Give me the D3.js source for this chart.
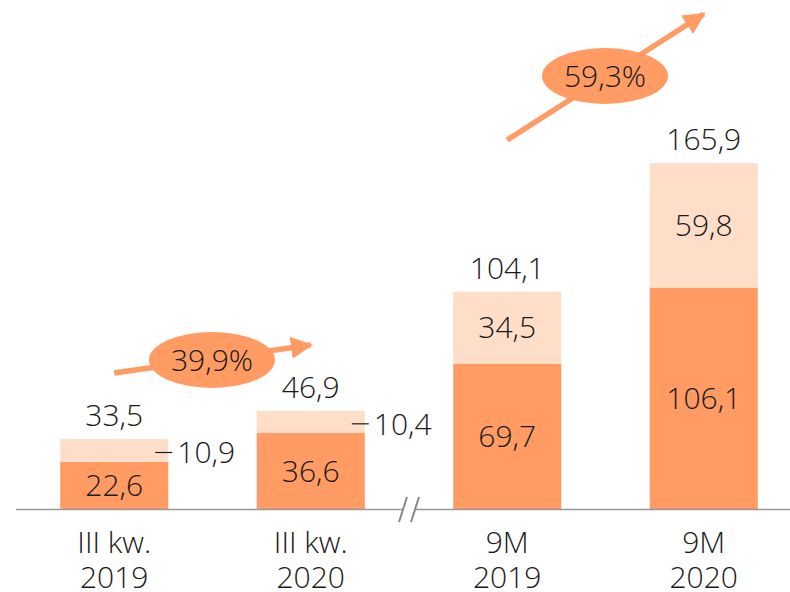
<!DOCTYPE html>
<html>
<head>
<meta charset="utf-8">
<script src="https://cdn.jsdelivr.net/npm/d3@7"></script>
<style>
  body { margin: 0; background: #fff; }
  text { font-family: "Open Sans", sans-serif; font-weight: 300; fill: #1a1a1a; }
</style>
</head>
<body>
<div id="chart"></div>
<script>
var W = 790, H = 592;

// dane
var categories = ['III kw. 2019', 'III kw. 2020', '9M 2019', '9M 2020'];
var catLines = [['III kw.', '2019'], ['III kw.', '2020'], ['9M', '2019'], ['9M', '2020']];
var baseVals = [22.6, 36.6, 69.7, 106.1];
var topVals = [10.9, 10.4, 34.5, 59.8];
var totals = [33.5, 46.9, 104.1, 165.9];
var growth = ['39,9%', '59,3%'];

var cDark = '#ff9b63',
    cLight = '#ffdec9';

var fmt = function (v) { return v.toFixed(1).replace('.', ','); };

var svg = d3.select('#chart').append('svg')
    .attr('width', W)
    .attr('height', H);

var x = d3.scaleBand().domain(categories).range([16, 802]).paddingInner(0.45).paddingOuter(0.225);
var y = d3.scaleLinear().domain([0, 165.9]).range([509, 163]);

var rows = categories.map(function (c, i) { return {cat: c, base: baseVals[i], top: topVals[i]}; });
var stack = d3.stack().keys(['base', 'top'])(rows);
var colors = [cDark, cLight];

// słupki
stack.forEach(function (layer, li) {
    svg.append('g').selectAll('rect').data(layer).enter().append('rect')
        .attr('x', function (d) { return x(d.data.cat); })
        .attr('y', function (d) { return y(d[1]); })
        .attr('width', x.bandwidth())
        .attr('height', function (d) { return y(d[0]) - y(d[1]); })
        .attr('fill', colors[li]);
});

// oś
svg.append('line').attr('x1', 16).attr('x2', W).attr('y1', y(0) + 0.5).attr('y2', y(0) + 0.5)
    .attr('stroke', '#999').attr('stroke-width', 1.5);

// przerwa osi
var bx = (x(categories[1]) + x.bandwidth() + x(categories[2])) / 2;
svg.append('rect').attr('x', bx - 6).attr('y', y(0) - 3).attr('width', 12).attr('height', 6).attr('fill', '#fff');
[-6, 6].forEach(function (o) {
    svg.append('line')
        .attr('x1', bx + o - 4).attr('y1', y(0) + 13)
        .attr('x2', bx + o + 4).attr('y2', y(0) - 12)
        .attr('stroke', '#888').attr('stroke-width', 2);
});

var cx = function (i) { return x(categories[i]) + x.bandwidth() / 2; };

// etykiety sum
svg.append('g').selectAll('text').data(totals).enter().append('text')
    .attr('x', function (d, i) { return cx(i); })
    .attr('y', function (d, i) { return y(baseVals[i] + topVals[i]) - 13; })
    .attr('text-anchor', 'middle')
    .attr('font-size', 30)
    .text(fmt);

// etykiety dolnych segmentów
svg.append('g').selectAll('text').data(baseVals).enter().append('text')
    .attr('x', function (d, i) { return cx(i); })
    .attr('y', function (d) { return (y(0) + y(d)) / 2; })
    .attr('dy', '0.36em')
    .attr('text-anchor', 'middle')
    .attr('font-size', 30)
    .text(fmt);

// etykiety górnych segmentów
topVals.forEach(function (v, i) {
    var yc = (y(baseVals[i]) + y(baseVals[i] + v)) / 2;
    if (i < 2) {
        var xr = x(categories[i]) + x.bandwidth() - 13;
        svg.append('line').attr('x1', xr).attr('x2', xr + 17).attr('y1', yc + 2).attr('y2', yc + 2)
            .attr('stroke', '#1a1a1a').attr('stroke-width', 1.2);
        svg.append('text').attr('x', xr + 22).attr('y', yc + 2).attr('dy', '0.36em')
            .attr('font-size', 30).text(fmt(v));
    } else {
        svg.append('text').attr('x', cx(i)).attr('y', yc).attr('dy', '0.36em')
            .attr('text-anchor', 'middle').attr('font-size', 30).text(fmt(v));
    }
});

// kategorie
catLines.forEach(function (lines, i) {
    var t = svg.append('text').attr('text-anchor', 'middle').attr('font-size', 30);
    lines.forEach(function (l, k) {
        t.append('tspan').attr('x', cx(i)).attr('y', 553 + k * 35).text(l);
    });
});

// strzałki wzrostu
var defs = svg.append('defs');
defs.append('marker').attr('id', 'ah').attr('viewBox', '0 0 10 10')
    .attr('refX', 9).attr('refY', 5).attr('markerWidth', 4).attr('markerHeight', 4)
    .attr('orient', 'auto')
    .append('path').attr('d', 'M0,0 L10,5 L0,10 z').attr('fill', cDark);

var arrows = [
    {x1: cx(0), y1: 373, x2: cx(1), y2: 345, ex: 212, ey: 360, t: growth[0]},
    {x1: cx(2), y1: 140, x2: cx(3), y2: 14, ex: 605, ey: 76, t: growth[1]}
];
arrows.forEach(function (a) {
    svg.append('line').attr('x1', a.x1).attr('y1', a.y1).attr('x2', a.x2).attr('y2', a.y2)
        .attr('stroke', cDark).attr('stroke-width', 5.5).attr('marker-end', 'url(#ah)');
    svg.append('ellipse').attr('cx', a.ex).attr('cy', a.ey).attr('rx', 63).attr('ry', 28).attr('fill', cDark);
    svg.append('text').attr('x', a.ex).attr('y', a.ey).attr('dy', '0.36em')
        .attr('text-anchor', 'middle').attr('font-size', 30).text(a.t);
});
</script>
</body>
</html>
